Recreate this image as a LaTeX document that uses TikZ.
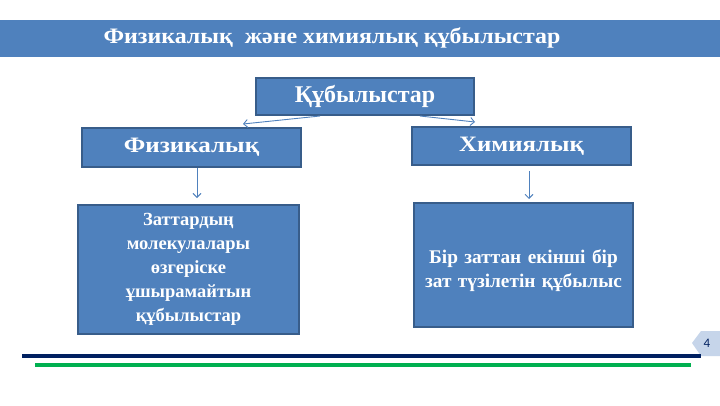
\documentclass[tikz,border=0pt]{standalone}
\usepackage{fontspec}
\setmainfont{Liberation Serif}
\newfontfamily\numfont{Carlito}
\usetikzlibrary{arrows.meta}
\definecolor{boxblue}{HTML}{4F81BD}
\definecolor{boxedge}{HTML}{385D8A}
\definecolor{navy}{HTML}{002060}
\definecolor{grn}{HTML}{00B050}
\definecolor{tabblue}{HTML}{C6D5EA}
\tikzset{
  box/.style={draw=boxedge, line width=2pt, fill=boxblue, text=white, font=\bfseries, align=center, inner sep=0pt},
  conn/.style={draw=boxblue, line width=0.9pt, -{Straight Barb[length=4pt,width=8pt]}},
}
\begin{document}
\begin{tikzpicture}[x=1pt,y=-1pt]
\useasboundingbox (0,0) rectangle (720,405);
\fill[white] (0,0) rectangle (720,405);
% title bar
\fill[boxblue] (0,19.5) rectangle (720,56.5);
\node[text=white, font=\fontsize{21}{24}\bfseries\selectfont, anchor=center] (title) at (332,37.5) {\scalebox{1.14}[1.05]{Физикалық\ \ және химиялық құбылыстар}};
% boxes
\node[box, minimum width=218pt, minimum height=37pt, font=\fontsize{24}{28}\bfseries\selectfont] (top) at (365,96.5) {\raisebox{-1.5pt}{Құбылыстар}};
\node[box, minimum width=219pt, minimum height=39pt, font=\fontsize{22}{26}\bfseries\selectfont] (phys) at (191.5,147) {\raisebox{-1.5pt}{\scalebox{1.14}[1]{Физикалық}}};
\node[box, minimum width=219pt, minimum height=38pt, font=\fontsize{22}{26}\bfseries\selectfont] (chem) at (521.5,146) {\raisebox{-1.5pt}{\scalebox{1.13}[1]{Химиялық}}};
\node[box, minimum width=221pt, minimum height=129pt, text width=212pt, font=\fontsize{18.5}{24}\bfseries\selectfont] (physd) at (188.5,269.5) {Заттардың\\молекулалары\\өзгеріске\\ұшырамайтын\\құбылыстар};
\node[box, minimum width=219pt, minimum height=124pt, text width=212pt, font=\fontsize{19.3}{24.5}\bfseries\selectfont] (chemd) at (523.5,265) {\rule{0pt}{25pt}Бір заттан екінші бір\\зат түзілетін құбылыс};
% connectors
\coordinate (tl) at (320,116);
\coordinate (tr) at (420,116);
\coordinate (pl) at (243,124);
\coordinate (pr) at (475,122);
\coordinate (pa) at (197,198);
\coordinate (cs) at (529,171);
\coordinate (ca) at (529,199);
\draw[conn] (tl) -- (pl);
\draw[conn] (tr) -- (pr);
\draw[conn] (phys.south -| pa) -- (pa);
\draw[conn] (cs) -- (ca);
% footer
\fill[tabblue] (692,343) -- (701,331) -- (720,331) -- (720,356) -- (701,356) -- cycle;
\node[text=navy, font=\fontsize{13}{14}\numfont\selectfont] (pg) at (707,343) {4};
\fill[navy] (22,353.5) rectangle (701,357.5);
\fill[grn] (35,362.5) rectangle (691,366.5);
\end{tikzpicture}
\end{document}
